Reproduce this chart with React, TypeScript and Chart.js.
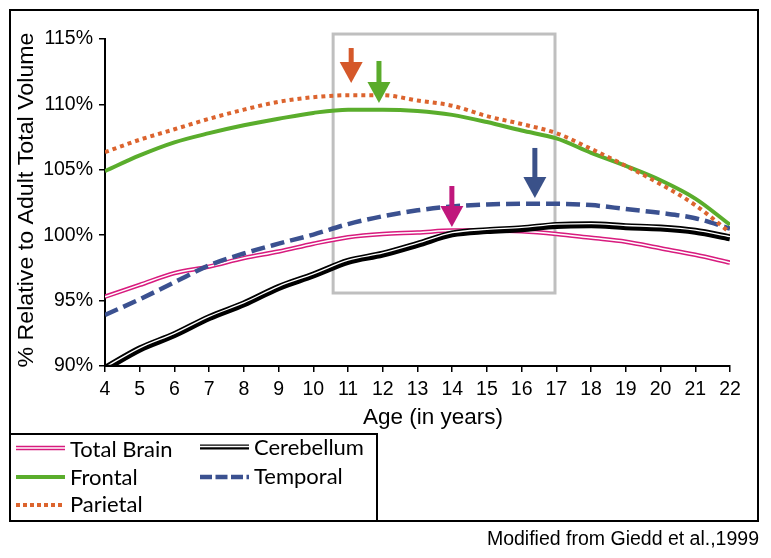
import React, { useEffect, useRef } from "react";
import { Chart, registerables } from "chart.js";
Chart.register(...registerables);

// ---- Data ----
const ages = [4, 5, 6, 7, 8, 9, 10, 11, 12, 13, 14, 15, 16, 17, 18, 19, 20, 21, 22];
const totalBrain = [95.3, 96.2, 97.1, 97.6, 98.25, 98.75, 99.35, 99.85, 100.1, 100.2, 100.35, 100.35, 100.3, 100.1, 99.8, 99.5, 99.0, 98.5, 97.9];
const cerebellum = [89.8, 91.3, 92.4, 93.7, 94.75, 96.0, 96.95, 98.0, 98.55, 99.3, 100.1, 100.35, 100.5, 100.75, 100.8, 100.65, 100.55, 100.3, 99.8];
const frontal = [104.9, 106.1, 107.1, 107.8, 108.4, 108.9, 109.35, 109.6, 109.6, 109.5, 109.2, 108.65, 108.0, 107.4, 106.3, 105.3, 104.2, 102.8, 100.8];
const temporal = [93.9, 95.1, 96.4, 97.7, 98.6, 99.35, 100.05, 100.85, 101.45, 101.9, 102.2, 102.35, 102.4, 102.4, 102.3, 102.0, 101.7, 101.3, 100.5];
const parietal = [106.35, 107.3, 108.1, 108.9, 109.6, 110.2, 110.55, 110.7, 110.7, 110.3, 109.9, 109.1, 108.5, 107.8, 106.6, 105.3, 103.9, 102.3, 100.2];

const xTickMin = 4;
const xTickMax = 22;
const yTickMin = 90;
const yTickMax = 115;
const yTickStep = 5;

const seriesLabels = ["Total Brain", "Cerebellum", "Frontal", "Temporal", "Parietal"];

// peak arrows (age, tip value, tail value)
const arrowAges = [11.09, 11.89, 16.38, 13.99];
const arrowTips = [111.64, 110.11, 102.84, 100.63];
const arrowTails = [114.31, 113.32, 106.67, 103.76];

// highlighted age window (gray box)
const boxAges = [10.57, 16.96];
const boxValues = [95.58, 115.38];

const xTitle = "Age (in years)";
const yTitle = "% Relative to Adult Total Volume";
const sourceText = "Modified from Giedd et al.,1999";

// ---- Styles ----
const PINK = "#d81b7e";
const BLACK = "#000000";
const GREEN = "#5aad2c";
const BLUE = "#3b5190";
const ORANGE = "#dc642e";
const ARROW_COLORS = ["#d5582a", "#5aab2b", "#3a5189", "#c0177c"];
const SANS = '"Liberation Sans", Arial, sans-serif';
const LEGEND_FONT = 'Lato, "Open Sans", sans-serif';

type LineStyle = { color: string; width: number; dash: number[]; inner?: { color: string; width: number; dy: number } };
const styles: LineStyle[] = [
  { color: PINK, width: 4.5, dash: [], inner: { color: "#ffffff", width: 1.5, dy: 0 } },
  { color: BLACK, width: 7, dash: [], inner: { color: "#ffffff", width: 1.3, dy: -1.2 } },
  { color: GREEN, width: 4, dash: [] },
  { color: BLUE, width: 4.5, dash: [14, 6] },
  { color: ORANGE, width: 4, dash: [4, 4] },
];

const extrasPlugin = {
  id: "extras",
  beforeDatasetsDraw(chart: any) {
    const { ctx, scales } = chart;
    const x = scales.x, y = scales.y;
    ctx.save();
    ctx.strokeStyle = "#bfbfbf";
    ctx.lineWidth = 3;
    const x1 = x.getPixelForValue(boxAges[0]);
    const x2 = x.getPixelForValue(boxAges[1]);
    const y1 = y.getPixelForValue(boxValues[1]);
    const y2 = y.getPixelForValue(boxValues[0]);
    ctx.strokeRect(x1, y1, x2 - x1, y2 - y1);
    ctx.restore();
  },
  beforeDatasetDraw(chart: any, args: any) {
    const ds = chart.data.datasets[args.index];
    chart.ctx.save();
    if (ds._dy) chart.ctx.translate(0, ds._dy);
  },
  afterDatasetDraw(chart: any) {
    chart.ctx.restore();
  },
  afterDraw(chart: any) {
    const { ctx, scales } = chart;
    const x = scales.x, y = scales.y;
    ctx.save();
    // arrows
    arrowAges.forEach((a, i) => {
      const px = x.getPixelForValue(a);
      const tip = y.getPixelForValue(arrowTips[i]);
      const tail = y.getPixelForValue(arrowTails[i]);
      const headLen = 21, headW = 23, shaftW = 5;
      ctx.fillStyle = ARROW_COLORS[i];
      ctx.fillRect(px - shaftW / 2, tail, shaftW, tip - headLen - tail + 1);
      ctx.beginPath();
      ctx.moveTo(px - headW / 2, tip - headLen);
      ctx.lineTo(px + headW / 2, tip - headLen);
      ctx.lineTo(px, tip);
      ctx.closePath();
      ctx.fill();
    });
    // outer frame
    ctx.strokeStyle = "#000";
    ctx.lineWidth = 2;
    ctx.strokeRect(10, 10, 748, 511);
    // legend box
    ctx.strokeRect(10, 434, 367, 87);
    // legend items
    const items = [
      { i: 0, x: 16, y: 448, tx: 70, ty: 457 },
      { i: 1, x: 200, y: 447, tx: 254, ty: 455 },
      { i: 2, x: 16, y: 477, tx: 70, ty: 485 },
      { i: 3, x: 200, y: 477, tx: 254, ty: 484 },
      { i: 4, x: 16, y: 505, tx: 70, ty: 512 },
    ];
    items.forEach((it) => {
      const s = styles[it.i];
      ctx.save();
      ctx.beginPath();
      ctx.strokeStyle = s.color;
      ctx.lineWidth = Math.min(s.width, 5);
      ctx.lineCap = "butt";
      ctx.setLineDash(it.i === 3 ? [12, 3.5] : it.i === 4 ? [4, 3] : s.dash);
      ctx.moveTo(it.x, it.y);
      ctx.lineTo(it.x + 49, it.y);
      ctx.stroke();
      if (s.inner) {
        ctx.beginPath();
        ctx.setLineDash([]);
        ctx.strokeStyle = s.inner.color;
        ctx.lineWidth = s.inner.width;
        ctx.moveTo(it.x, it.y + (it.i === 1 ? -0.5 : 0));
        ctx.lineTo(it.x + 49, it.y + (it.i === 1 ? -0.5 : 0));
        ctx.stroke();
      }
      ctx.restore();
      ctx.fillStyle = "#000";
      ctx.font = `22px ${LEGEND_FONT}`;
      ctx.textAlign = "left";
      ctx.textBaseline = "alphabetic";
      ctx.fillText(seriesLabels[it.i], it.tx, it.ty);
    });
    // axis titles
    ctx.fillStyle = "#000";
    ctx.font = `22.5px ${SANS}`;
    ctx.textAlign = "center";
    ctx.textBaseline = "middle";
    ctx.fillText(xTitle, 433, 418);
    ctx.save();
    ctx.translate(27, 200);
    ctx.rotate(-Math.PI / 2);
    ctx.font = `21.5px ${SANS}`;
    const w = ctx.measureText(yTitle).width;
    ctx.scale(335 / w, 1);
    ctx.fillText(yTitle, 0, 0);
    ctx.restore();
    // source
    ctx.font = `19.5px ${SANS}`;
    ctx.textAlign = "right";
    ctx.textBaseline = "alphabetic";
    ctx.fillText(sourceText, 759, 545);
    ctx.restore();
  },
};

function buildDatasets() {
  const series = [totalBrain, cerebellum, frontal, temporal, parietal];
  const layerOrder = [6, 4, 2, 1, 0];
  const ds: any[] = [];
  series.forEach((vals, i) => {
    const s = styles[i];
    ds.push({
      label: seriesLabels[i],
      data: ages.map((a, k) => ({ x: a, y: vals[k] })),
      borderColor: s.color,
      borderWidth: s.width,
      borderDash: s.dash,
      borderCapStyle: "butt",
      pointRadius: 0,
      fill: false,
      cubicInterpolationMode: "monotone",
      order: layerOrder[i],
    });
    if (s.inner) {
      ds.push({
        label: seriesLabels[i] + " inner",
        data: ages.map((a, k) => ({ x: a, y: vals[k] })),
        borderColor: s.inner.color,
        borderWidth: s.inner.width,
        pointRadius: 0,
        fill: false,
        cubicInterpolationMode: "monotone",
        order: layerOrder[i] - 0.5,
        _dy: s.inner.dy,
      });
    }
  });
  return ds;
}

export default function App() {
  const ref = useRef<HTMLCanvasElement>(null);
  useEffect(() => {
    if (!ref.current) return;
    const chart = new Chart(ref.current, {
      type: "line",
      data: { datasets: buildDatasets() },
      options: {
        responsive: false,
        animation: false,
        layout: { padding: { top: 39, right: 41, left: 0, bottom: 0 } },
        plugins: { legend: { display: false }, tooltip: { enabled: false } },
        scales: {
          x: {
            type: "linear",
            min: xTickMin,
            max: xTickMax,
            afterFit: (s: any) => { s.height = 192; },
            border: { display: true, color: "#000", width: 2 },
            grid: { drawOnChartArea: false, drawTicks: true, tickLength: 6, color: "#000", lineWidth: 1.5 },
            ticks: { stepSize: 1, color: "#000", padding: 6, font: { family: SANS, size: 19.5 }, maxRotation: 0 },
          },
          y: {
            type: "linear",
            min: yTickMin,
            max: yTickMax,
            afterFit: (s: any) => { s.width = 105; },
            border: { display: true, color: "#000", width: 2 },
            grid: { drawOnChartArea: false, drawTicks: true, tickLength: 6, color: "#000", lineWidth: 1.5 },
            ticks: { stepSize: yTickStep, color: "#000", padding: 6, font: { family: SANS, size: 19.5 }, callback: (v: any) => v + "%" },
          },
        },
      },
      plugins: [extrasPlugin],
    } as any);
    return () => chart.destroy();
  }, []);
  return (
    <div style={{ position: "fixed", left: 0, top: 0, width: 771, height: 558, background: "#fff" }}>
      <canvas ref={ref} width={771} height={558} />
    </div>
  );
}
